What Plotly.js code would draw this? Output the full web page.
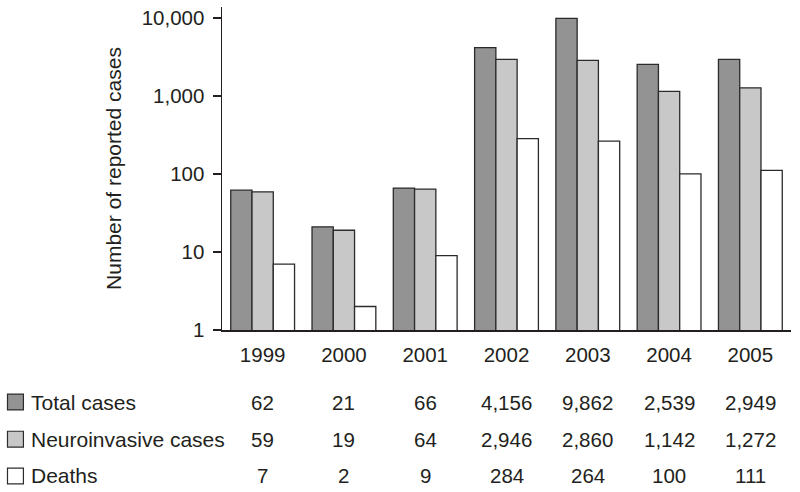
<!DOCTYPE html>
<html>
<head>
<meta charset="utf-8">
<script src="https://cdn.plot.ly/plotly-3.0.1.min.js"></script>
<style>html,body{margin:0;padding:0;background:#fff;}#chart{width:800px;height:492px;}</style>
</head>
<body>
<div id="chart"></div>
<script>
const years = ['1999', '2000', '2001', '2002', '2003', '2004', '2005'];
const seriesNames = ['Total cases', 'Neuroinvasive cases', 'Deaths'];
const totalCases = [62, 21, 66, 4156, 9862, 2539, 2949];
const neuroCases = [59, 19, 64, 2946, 2860, 1142, 1272];
const deaths = [7, 2, 9, 284, 264, 100, 111];
const tableLabels = [
  ['62', '21', '66', '4,156', '9,862', '2,539', '2,949'],
  ['59', '19', '64', '2,946', '2,860', '1,142', '1,272'],
  ['7', '2', '9', '284', '264', '100', '111']
];
const yTickVals = [1, 10, 100, 1000, 10000];
const yTickText = ['1', '10', '100', '1,000', '10,000'];

const colors = ['#939393', '#c8c8c8', '#ffffff'];
const seriesValues = [totalCases, neuroCases, deaths];
const textColor = '#231f20';
const fontFam = '"Liberation Sans", Arial, Helvetica, sans-serif';
const fs = 20.5;

const traces = seriesValues.map((vals, i) => ({
  type: 'bar',
  x: years,
  y: vals,
  name: seriesNames[i],
  marker: {color: colors[i], line: {color: '#2b2b2b', width: 1.3}},
  hoverinfo: 'x+y+name'
}));

const rowY = [-0.223, -0.338, -0.452];
const annotations = [];
const shapes = [];
tableLabels.forEach((row, r) => {
  row.forEach((txt, c) => {
    annotations.push({
      xref: 'x', yref: 'paper', x: c, y: rowY[r],
      text: txt, showarrow: false, xanchor: 'center', yanchor: 'middle',
      font: {size: fs, color: textColor, family: fontFam}
    });
  });
  annotations.push({
    xref: 'paper', yref: 'paper', x: -0.339, y: rowY[r],
    text: seriesNames[r], showarrow: false, xanchor: 'left', yanchor: 'middle',
    font: {size: 21, color: textColor, family: fontFam}
  });
  shapes.push({
    type: 'rect', xref: 'paper', yref: 'paper',
    x0: -0.377, x1: -0.349, y0: rowY[r] - 0.0245, y1: rowY[r] + 0.0245,
    fillcolor: colors[r], line: {color: '#2b2b2b', width: 1.2}
  });
});

const layout = {
  width: 800, height: 492,
  margin: {l: 222, r: 9, t: 7, b: 162},
  paper_bgcolor: '#ffffff', plot_bgcolor: '#ffffff',
  showlegend: false,
  barmode: 'group',
  bargap: 0.215,
  bargroupgap: 0,
  font: {family: fontFam, color: textColor, size: fs},
  xaxis: {
    type: 'category',
    range: [-0.5, 6.5],
    showline: true, linecolor: '#231f20', linewidth: 1.5,
    ticks: 'outside', ticklen: 6, tickcolor: 'rgba(0,0,0,0)',
    showgrid: false, zeroline: false,
    tickfont: {size: fs, color: textColor, family: fontFam}
  },
  yaxis: {
    type: 'log',
    range: [0, 4.14],
    showline: true, linecolor: '#231f20', linewidth: 1.5,
    ticks: 'outside', ticklen: 8, tickwidth: 1.5, tickcolor: '#231f20',
    tickvals: yTickVals, ticktext: yTickText,
    ticklabelstandoff: 4,
    showgrid: false, zeroline: false,
    tickfont: {size: fs, color: textColor, family: fontFam},
    title: {text: 'Number of reported cases', standoff: 14,
            font: {size: 21, color: textColor, family: fontFam}}
  },
  annotations: annotations,
  shapes: shapes
};

Plotly.newPlot('chart', traces, layout, {displayModeBar: false, staticPlot: true});
</script>
</body>
</html>
